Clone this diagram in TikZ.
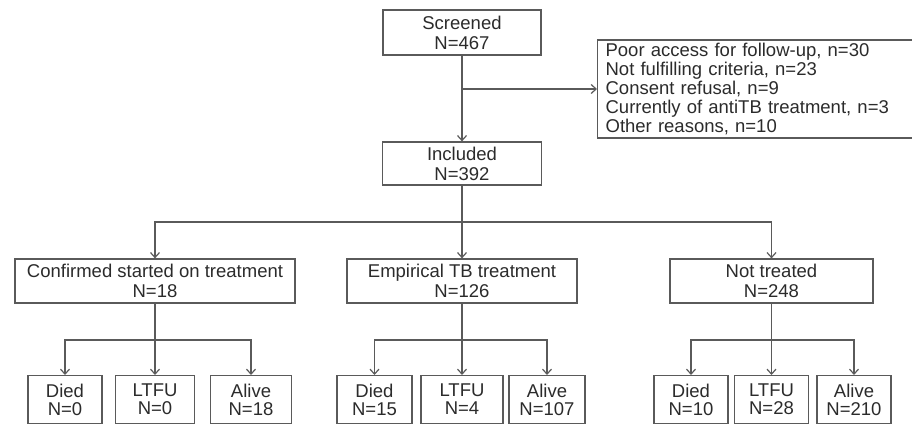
\documentclass[tikz,border=0pt]{standalone}
\usepackage{fontspec}
\setmainfont{Liberation Sans}
\usetikzlibrary{arrows.meta}
\definecolor{lncol}{HTML}{5A5A5A}
\definecolor{txcol}{HTML}{2B2B2B}
\begin{document}
\begin{tikzpicture}[x=1pt,y=-1pt,
  box/.style={draw=lncol, line width=1.2pt, text=txcol, align=center, inner sep=0pt,
    font=\fontsize{18.5}{20}\selectfont},
  leaf/.style={box, anchor=north, minimum height=48pt, font=\fontsize{18.5}{18}\selectfont},
  conn/.style={draw=lncol, line width=1.2pt},
  arr/.style={conn, -{Straight Barb[length=5pt,width=9pt]}}]
\useasboundingbox (0,0) rectangle (912,423);
\clip (0,0) rectangle (912,423);
% top
\node[box, minimum width=158pt, minimum height=45pt] (scr) at (462,32.5) {Screened\\N=467};
\node[box, minimum width=159pt, minimum height=43pt] (inc) at (462,163.5) {Included\\N=392};
\node[box, anchor=west, text width=312pt, inner xsep=8pt, minimum height=98pt, align=left,
  font=\fontsize{18.5}{19}\selectfont] (exc) at (597,89)
  {Poor access for follow-up, n=30\\Not fulfilling criteria, n=23\\Consent refusal, n=9\\Currently of antiTB treatment, n=3\\Other reasons, n=10};
\coordinate (br) at (scr.south |- exc.west);
\draw[arr] (scr.south) -- (inc.north);
\draw[arr] (br) -- (exc.west);
% level 2
\node[box, minimum width=280pt, minimum height=44pt] (conf) at (155,281) {Confirmed started on treatment\\N=18};
\node[box, minimum width=230pt, minimum height=44pt] (emp) at (462,281) {Empirical TB treatment\\N=126};
\node[box, minimum width=203pt, minimum height=44pt] (nt) at (771.5,281) {Not treated\\N=248};
\coordinate (y2) at (0,222);
\coordinate (hub) at (inc.south |- y2);
\draw[conn] (inc.south) -- (hub);
\draw[arr] (hub) -| (conf.north);
\draw[arr] (hub) -- (emp.north);
\draw[arr] (hub) -| (nt.north);
% level 3
\coordinate (y3) at (0,340);
\node[leaf, minimum width=74pt] (cd) at (65,375) {Died\\N=0};
\node[leaf, minimum width=79pt] (cl) at (155,375) {LTFU\\N=0};
\node[leaf, minimum width=81pt] (ca) at (251,375) {Alive\\N=18};
\node[leaf, minimum width=75pt] (ed) at (374.5,375) {Died\\N=15};
\node[leaf, minimum width=82pt] (el) at (462,375) {LTFU\\N=4};
\node[leaf, minimum width=76pt] (ea) at (547,375) {Alive\\N=107};
\node[leaf, minimum width=74pt] (nd) at (691,375) {Died\\N=10};
\node[leaf, minimum width=74pt] (nl) at (771.5,375) {LTFU\\N=28};
\node[leaf, minimum width=74pt] (na) at (854,375) {Alive\\N=210};
\foreach \p/\a/\b/\c in {conf/cd/cl/ca, emp/ed/el/ea, nt/nd/nl/na}{
  \draw[conn] (\p.south) -- (\p.south |- y3);
  \draw[arr] (\p.south |- y3) -| (\a.north);
  \draw[arr] (\p.south |- y3) -- (\b.north);
  \draw[arr] (\p.south |- y3) -| (\c.north);
}
\end{tikzpicture}
\end{document}
